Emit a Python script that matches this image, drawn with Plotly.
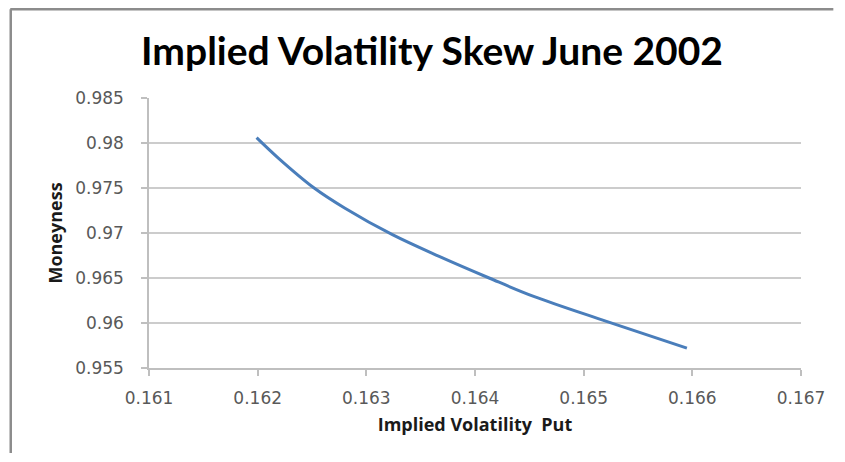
import plotly.graph_objects as go

implied_vol_put = [0.16199, 0.16219, 0.16252, 0.16280, 0.16324, 0.16367, 0.16413, 0.16454, 0.16521, 0.16595]
moneyness = [0.98060, 0.97833, 0.97500, 0.97278, 0.96981, 0.96740, 0.96500, 0.96296, 0.96018, 0.95720]

x_ticks = [0.161, 0.162, 0.163, 0.164, 0.165, 0.166, 0.167]
y_ticks = [0.955, 0.96, 0.965, 0.97, 0.975, 0.98, 0.985]

# page has an 8px body margin on every side; keep the figure inside the window
OFF = 8
W, H = 845 - 2 * OFF, 462 - 2 * OFF
L, R, T, B = 148.5 - OFF, W - (804 - OFF), 98.3 - OFF, H - (368.5 - OFF)
pw, ph = W - L - R, H - T - B


def px(x):
    return (x - OFF - L) / pw


def py(y):
    return (H - B - (y - OFF)) / ph


fig = go.Figure()
fig.add_trace(go.Scatter(
    x=implied_vol_put, y=moneyness, mode="lines",
    line=dict(color="#4a7ebb", width=3, shape="spline", smoothing=1.0),
    showlegend=False, hoverinfo="x+y",
))

tick_font = dict(family="DejaVu Sans, sans-serif", size=17, color="#595959")
title_font = dict(family="Open Sans, sans-serif", size=18, color="#1a1a1a")
fig.update_layout(
    width=W, height=H,
    margin=dict(l=L, r=R, t=T, b=B, pad=0),
    paper_bgcolor="white", plot_bgcolor="white",
    title=dict(text="<b>Implied Volatility Skew June 2002</b>",
               font=dict(family="Lato, sans-serif", size=39, color="#000000"),
               x=(432 - OFF) / W, xanchor="center", y=1 - (51 - OFF) / H, yanchor="middle"),
    xaxis=dict(range=[0.161, 0.167], tickvals=x_ticks, ticktext=[str(v) for v in x_ticks],
               showgrid=False, showline=True, linecolor="#bfbfbf", linewidth=1.5,
               ticks="outside", ticklen=6, tickcolor="#bfbfbf", tickwidth=1.5,
               tickfont=tick_font, ticklabelstandoff=8, zeroline=False,
               title=dict(text="<b>Implied Volatility  Put</b>", font=title_font, standoff=11)),
    yaxis=dict(range=[0.955, 0.985], tickvals=y_ticks, ticktext=[str(v) for v in y_ticks],
               showgrid=True, gridcolor="#cccccc", gridwidth=1.5,
               showline=True, linecolor="#bfbfbf", linewidth=1.5,
               ticks="outside", ticklen=6, tickcolor="#bfbfbf", tickwidth=1.5,
               tickfont=tick_font, ticklabelstandoff=14, zeroline=False,
               title=dict(text="<b>Moneyness</b>", font=title_font, standoff=8)),
)

# outer chart frame (top and left edges visible in the reference)
fig.add_shape(type="line", xref="paper", yref="paper",
              x0=px(9), x1=px(836.5), y0=py(9.5), y1=py(9.5),
              line=dict(color="#8c8c8c", width=2.5))
fig.add_shape(type="line", xref="paper", yref="paper",
              x0=px(9.5), x1=px(9.5), y0=py(9.5), y1=py(453.5),
              line=dict(color="#8c8c8c", width=2.5))

fig.write_html("out.html")
